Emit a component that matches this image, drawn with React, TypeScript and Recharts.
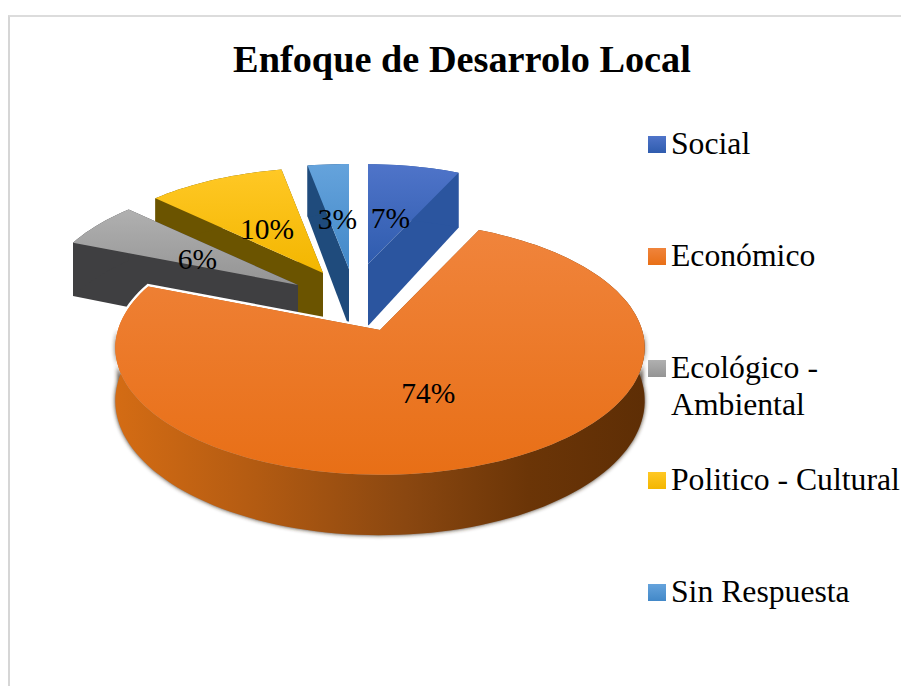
import { Legend, Pie, PieChart } from "recharts";

const categories = ["Social", "Económico", "Ecológico - Ambiental", "Politico - Cultural", "Sin Respuesta"];
const values = [7, 74, 6, 10, 3];
const chartTitle = "Enfoque de Desarrolo Local";
// painter's order going anticlockwise from the end of Social, so Económico lands on top
const paintOrder = [0, 4, 3, 2, 1];

const topColors = ["#4f74c9", "#f0843c", "#b0b0b0", "#ffc825", "#65a3dc"];
const bottomColors = ["#2f5cae", "#e86f16", "#949494", "#f3b600", "#4288c8"];
const wallColors = ["#2b559f", "#8a4710", "#3f3f41", "#6b5400", "#1f4b7c"];

// explosion of each slice in the tilted view, this chart has no single rule for it
const explode = [
  { dx: 3, dy: -36, scale: 0.95, depth: 62, halo: 0 },
  { dx: 15, dy: 30, scale: 1.04, depth: 52, halo: 5 },
  { dx: -67, dy: -15, scale: 1.01, depth: 56, halo: 0 },
  { dx: -42, dy: -27, scale: 1, depth: 56, halo: 0 },
  { dx: -16, dy: -31, scale: 1, depth: 58, halo: 0 },
];

const FONT = "'Liberation Serif', serif";
const TILT = 0.475;
const PERSPECTIVE = 0.14;
const RAD = Math.PI / 180;

const pieData = paintOrder.map((i) => ({ name: categories[i], value: values[i] }));

const project = (cx: number, cy: number, radius: number, name: string, angle: number, r: number) => {
  const e = explode[categories.indexOf(name)];
  const u = Math.cos(angle * RAD) * r;
  const v = -Math.sin(angle * RAD) * r;
  const s = 1 / (1 - PERSPECTIVE * v);
  const R = radius * e.scale;
  return { x: cx + e.dx + R * u * s, y: cy + e.dy + R * TILT * v * s, drop: e.depth * s };
};

const toPath = (pts: { x: number; y: number }[]) =>
  pts.map((p, i) => `${i ? "L" : "M"}${p.x.toFixed(1)} ${p.y.toFixed(1)}`).join(" ") + " Z";

const Slice3D = (props: any) => {
  const { cx, cy, outerRadius, startAngle, endAngle, name } = props;
  const idx = categories.indexOf(name);
  const e = explode[idx];
  const at = (a: number, r = 1) => project(cx, cy, outerRadius, name, a, r);
  const down = (p: { x: number; y: number; drop: number }) => ({ x: p.x, y: p.y + p.drop });

  const steps = Math.max(2, Math.ceil(Math.abs(endAngle - startAngle) / 2));
  const angles = Array.from({ length: steps + 1 }, (_, k) => startAngle + ((endAngle - startAngle) * k) / steps);
  const rim = angles.map((a) => at(a));
  const apex = at(0, 0);
  const radialWall = (p: { x: number; y: number; drop: number }) => toPath([apex, p, down(p), down(apex)]);
  const rimWall = toPath([...rim, ...[...rim].reverse().map(down)]);
  const face = toPath([apex, ...rim]);
  const wallFill = idx === 1 ? "url(#econWall)" : wallColors[idx];
  // soft dark edge only along the front of the rim
  const frontRim = rim.filter((_, k) => Math.sin(angles[k] * RAD) < 0);
  const frontWall = toPath([...frontRim, ...[...frontRim].reverse().map(down)]);

  return (
    <g>
      {e.halo > 0 && <path d={face} fill="#fff" stroke="#fff" strokeWidth={e.halo} />}
      {idx === 1 && <path d={frontWall} fill="#3a2a1c" filter="url(#softEdge)" />}
      <path d={radialWall(rim[0])} fill={wallFill} />
      <path d={radialWall(rim[steps])} fill={wallFill} />
      <path d={rimWall} fill={wallFill} />
      <path d={face} fill={`url(#face${idx})`} />
    </g>
  );
};

const renderPercent = (props: any) => {
  const { cx, cy, outerRadius, midAngle, percent, name } = props;
  const p = project(cx, cy, outerRadius, name, midAngle, 0.48);
  return (
    <text x={p.x - 1} y={p.y + 14} textAnchor="middle" fontFamily={FONT} fontSize={29.5} fill="#000">
      {`${Math.round(percent * 100)}%`}
    </text>
  );
};

const LegendRows = () => (
  <div style={{ position: "relative", fontFamily: FONT, fontSize: 31.7, lineHeight: "37px", color: "#000" }}>
    {categories.map((name, i) => (
      <div key={name} style={{ position: "absolute", left: 648, top: 125 + i * 112, width: 253 }}>
        <div
          style={{
            position: "absolute",
            left: 0,
            top: 11,
            width: 18,
            height: 17,
            background: `linear-gradient(${topColors[i]}, ${bottomColors[i]})`,
          }}
        />
        <div style={{ marginLeft: 23 }}>{name}</div>
      </div>
    ))}
  </div>
);

export default function App() {
  return (
    <div style={{ position: "absolute", left: 0, top: 0, width: 901, height: 686, overflow: "hidden", background: "#fff" }}>
      <div
        style={{
          position: "absolute",
          left: 8,
          top: 15,
          right: 0,
          bottom: 0,
          borderTop: "2px solid #dcdcdc",
          borderLeft: "2px solid #d6d6d6",
        }}
      />
      <PieChart width={901} height={686} margin={{ top: 0, right: 0, bottom: 0, left: 0 }}>
        <defs>
          {categories.map((name, i) => (
            <linearGradient key={name} id={`face${i}`} x1="0" y1="0" x2="0" y2="1">
              <stop offset="0%" stopColor={topColors[i]} />
              <stop offset="100%" stopColor={bottomColors[i]} />
            </linearGradient>
          ))}
          <linearGradient id="econWall" gradientUnits="userSpaceOnUse" x1="115" y1="0" x2="645" y2="0">
            <stop offset="0%" stopColor="#d46c14" />
            <stop offset="25%" stopColor="#b55c12" />
            <stop offset="55%" stopColor="#8a4710" />
            <stop offset="78%" stopColor="#6b3507" />
            <stop offset="100%" stopColor="#5e2e05" />
          </linearGradient>
          <filter id="softEdge" x="-5%" y="-5%" width="110%" height="115%">
            <feGaussianBlur stdDeviation="2" />
          </filter>
        </defs>
        <text x={462} y={72} textAnchor="middle" fontFamily={FONT} fontWeight="bold" fontSize={38.3} fill="#000">
          {chartTitle}
        </text>
        <Pie
          data={pieData}
          dataKey="value"
          nameKey="name"
          cx={365}
          cy={300}
          outerRadius={252}
          startAngle={64.8}
          endAngle={424.8}
          stroke="none"
          isAnimationActive={false}
          shape={(props: any) => <Slice3D {...props} />}
          label={renderPercent}
          labelLine={false}
        />
        <Legend content={LegendRows} wrapperStyle={{ left: 0, top: 0, width: 901, height: 686 }} />
      </PieChart>
    </div>
  );
}
